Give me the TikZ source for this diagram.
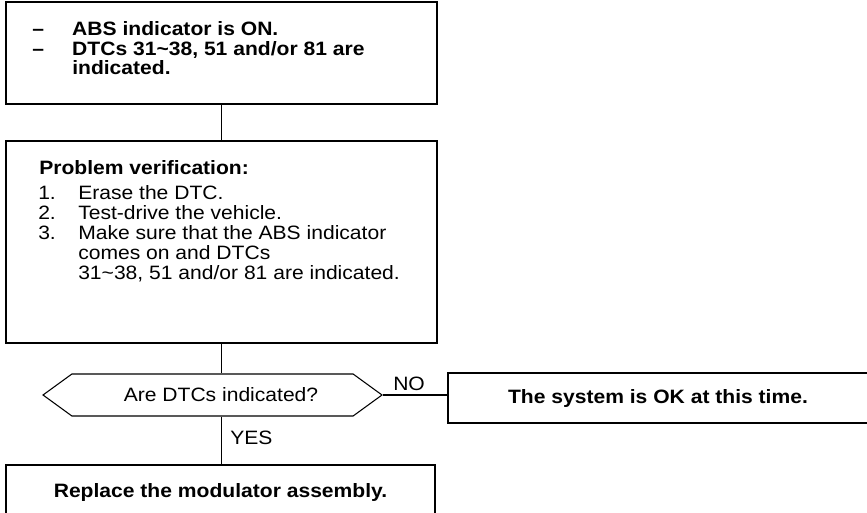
\documentclass[tikz,border=0pt]{standalone}
\usepackage{fontspec}
\setmainfont{Liberation Sans}[FakeStretch=1.09]
\usepackage{tikz}
\usetikzlibrary{shapes.symbols,positioning,calc}
\newcommand{\pxl}{0.75pt}

\begin{document}
\begin{tikzpicture}[
    x=0.75pt, y=-0.75pt,
    box/.style={rectangle, draw, line width=1.2pt, inner sep=0pt},
    txt/.style={anchor=base west, inner sep=0pt, font=\fontsize{14.5}{15}\selectfont},
    btxt/.style={txt, font=\fontsize{14.5}{15}\selectfont\bfseries},
    decision/.style={signal, signal to=west and east, signal pointer angle=72, draw, line width=0.8pt,
        minimum width=339*\pxl, minimum height=42*\pxl, inner sep=0pt, font=\fontsize{14.5}{15}\selectfont},
    link/.style={line width=1pt}
]
\useasboundingbox (0,0) rectangle (867,513);

\node[box, minimum width=431*\pxl, minimum height=102*\pxl] (symptom) at (221.5,53) {};
\node[btxt] (absline) at (32,35.5) {\makebox[30pt][l]{--}ABS indicator is ON.};
\node[btxt] (dtcline) at (32,55.5) {\makebox[30pt][l]{--}DTCs 31\textasciitilde 38, 51 and/or 81 are};
\node[btxt] (dtcline2) at (72,74.5) {indicated.};

\node[box, minimum width=431*\pxl, minimum height=202*\pxl] (verify) at (221.5,242) {};
\node[btxt] (verifyhead) at (39,174.5) {Problem verification:};
\node[txt] (stepa) at (38,199.5) {\makebox[30pt][l]{1.}Erase the DTC.};
\node[txt] (stepb) at (38,219.5) {\makebox[30pt][l]{2.}Test-drive the vehicle.};
\node[txt] (stepc) at (38,239.5) {\makebox[30pt][l]{3.}Make sure that the ABS indicator};
\node[txt] (stepc2) at (78,259.5) {comes on and DTCs};
\node[txt] (stepc3) at (78,279.5) {31\textasciitilde 38, 51 and/or 81 are indicated.};

\node[decision] (check) at (212.5,395) {\hspace*{12.75pt}Are DTCs indicated?};

\node[box, minimum width=420*\pxl, minimum height=50*\pxl, font=\fontsize{14.5}{15}\selectfont\bfseries]
    (okbox) at (658,398) {The system is OK at this time.};
\node[box, minimum width=429*\pxl, minimum height=54*\pxl, font=\fontsize{14.5}{15}\selectfont\bfseries]
    (replace) at (220.5,492) {Replace the modulator assembly.};

\node[txt] (no) at (393,390.5) {NO};
\node[txt] (yes) at (230,444.5) {YES};

\draw[link] (symptom) -- (verify);
\draw[link] (verify) -- (verify.south |- check.north);
\draw[link] (verify.south |- check.south) -- (verify.south |- replace.north);
\draw[link] (check.east) -- (check.east -| okbox.west);
\end{tikzpicture}
\end{document}
